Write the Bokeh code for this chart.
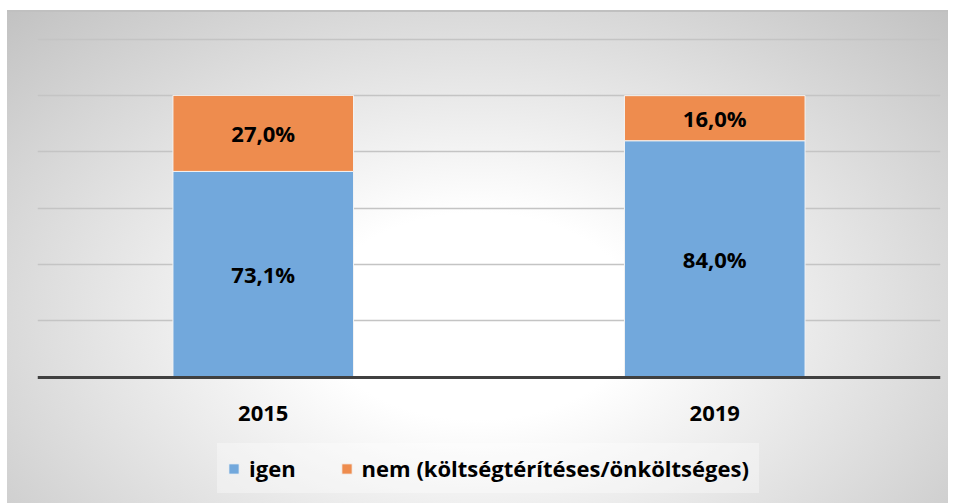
from bokeh.plotting import figure
from bokeh.models import ColumnDataSource, LabelSet, Legend, LegendItem, Range1d, FactorRange, FixedTicker
from bokeh.core.properties import value
from bokeh.embed import file_html
from bokeh.resources import INLINE

years = ["2015", "2019"]
igen = [73.1, 84.0]
nem = [27.0, 16.0]
series_names = ["igen", "nem (költségtérítéses/önköltséges)"]
colors = ["#72a8dc", "#ee8c4e"]
grid_ticks = [20, 40, 60, 80, 100, 120]

def fmt(v):
    return f"{v:.1f}%".replace(".", ",")

source = ColumnDataSource(dict(year=years, igen=igen, nem=nem))

p = figure(x_range=FactorRange(*years, range_padding=0), y_range=Range1d(-45.5, 121),
           width=941, height=493, output_backend="svg", toolbar_location=None,
           min_border_left=30, min_border_right=8, min_border_top=24, min_border_bottom=0)
p.margin = (10, 8, 0, 7)
p.styles = {"background": "radial-gradient(ellipse farthest-corner at 50% 62%, #ffffff 0%, #ffffff 24%, #c2c2c2 100%)",
            "border-top": "2px solid #c0c0c0"}
p.background_fill_alpha = 0
p.border_fill_alpha = 0
p.outline_line_color = None

rs = p.vbar_stack(["igen", "nem"], x="year", width=0.4, color=colors, source=source,
                  line_color="#f4f4f4", line_width=1)

p.yaxis.visible = False
p.xgrid.grid_line_color = None
p.ygrid.ticker = FixedTicker(ticks=grid_ticks)
p.ygrid.grid_line_color = "#c4c4c4"
p.ygrid.grid_line_width = 1.5

p.xaxis.fixed_location = 0
p.xaxis.axis_line_color = "#404040"
p.xaxis.axis_line_width = 3
p.xaxis.major_tick_line_color = None
p.xaxis.minor_tick_line_color = None
p.xaxis.major_label_standoff = 23
p.xaxis.major_label_text_font = "Open Sans"
p.xaxis.major_label_text_font_style = "bold"
p.xaxis.major_label_text_font_size = "22px"
p.xaxis.major_label_text_color = "#000000"

lab_x = years + years
lab_y = [a / 2 for a in igen] + [a + b / 2 for a, b in zip(igen, nem)]
lab_t = [fmt(v) for v in igen] + [fmt(v) for v in nem]
lsrc = ColumnDataSource(dict(x=lab_x, y=lab_y, t=lab_t))
p.add_layout(LabelSet(x="x", y="y", text="t", source=lsrc, text_align="center", text_baseline="middle",
                      text_font=value("Open Sans"), text_font_style="bold", text_font_size="22px",
                      text_color="#000000"))

legend = Legend(items=[LegendItem(label=series_names[0], renderers=[rs[0]]),
                       LegendItem(label=series_names[1], renderers=[rs[1]])],
                orientation="horizontal", location=(180, 12),
                background_fill_color="#ffffff", background_fill_alpha=0.35,
                border_line_alpha=0, label_text_font="Open Sans", label_text_font_style="bold",
                label_text_font_size="22px", label_text_color="#000000",
                glyph_width=13, glyph_height=13, spacing=44, label_standoff=9,
                padding=10, margin=0)
p.add_layout(legend, "center")

open("out.html", "w").write(file_html(p, INLINE))
